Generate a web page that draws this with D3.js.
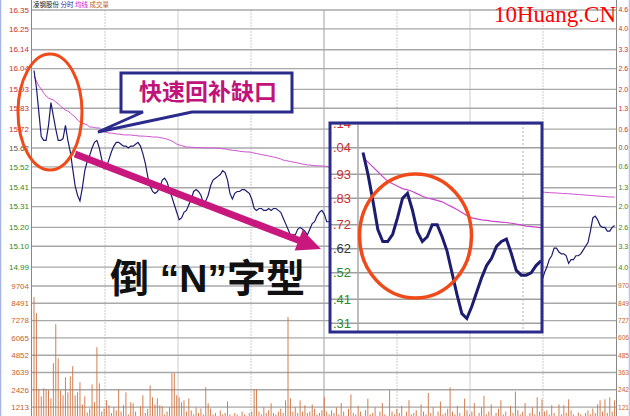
<!DOCTYPE html>
<html><head><meta charset="utf-8">
<script src="https://cdn.jsdelivr.net/npm/d3@7"></script>
<style>html,body{margin:0;padding:0;background:#fff;overflow:hidden}svg{display:block}</style>
</head><body><svg id="c" width="630" height="416"></svg>
<script>
// ---------- DATA ----------
const priceTickValues = [16.35,16.25,16.14,16.04,15.93,15.83,15.72,15.62,15.52,15.41,15.31,15.20,15.10,14.99];
const priceTickLabels = ["16.35","16.25","16.14","16.04","15.93","15.83","15.72","15.62","15.52","15.41","15.31","15.20","15.10","14.99"];
const pctTickLabels = ["4.6","4.0","3.3","2.6","2.0","1.3","0.6","0.0","0.6","1.3","2.0","2.6","3.3","4.0"];
const volTickValues = [9704,8491,7278,6065,4852,3639,2426,1213];
const prevClose = 15.62;

const price = [
16.03,15.94,15.81,15.68,15.66,15.66,15.74,15.86,15.79,15.72,
15.66,15.66,15.67,15.74,15.66,15.60,15.51,15.42,15.37,15.34,
15.41,15.50,15.55,15.58,15.62,15.65,15.66,15.62,15.56,15.51,
15.52,15.56,15.60,15.63,15.65,15.65,15.64,15.63,15.63,15.62,
15.63,15.63,15.64,15.65,15.63,15.59,15.54,15.47,15.42,15.39,
15.38,15.39,15.41,15.45,15.46,15.44,15.40,15.36,15.32,15.28,
15.24,15.25,15.28,15.29,15.32,15.35,15.39,15.40,15.39,15.37,
15.33,15.34,15.37,15.42,15.45,15.46,15.47,15.48,15.50,15.49,
15.45,15.38,15.35,15.38,15.39,15.39,15.40,15.40,15.39,15.38,
15.35,15.30,15.29,15.30,15.30,15.29,15.29,15.30,15.29,15.30,
15.30,15.29,15.28,15.25,15.22,15.19,15.16,15.16,15.16,15.19,
15.20,15.19,15.18,15.16,15.19,15.22,15.23,15.26,15.28,15.29,
15.27,15.23,15.23,15.21,15.19,15.18,15.20,15.22,15.21,15.19,
15.17,15.15,15.14,15.15,15.16,15.15,15.13,15.12,15.12,15.13,
15.14,15.13,15.11,15.10,15.11,15.12,15.12,15.11,15.09,15.08,
15.08,15.09,15.10,15.09,15.07,15.06,15.06,15.07,15.08,15.07,
15.05,15.04,15.05,15.06,15.06,15.05,15.03,15.02,15.03,15.04,
15.05,15.04,15.02,15.01,15.00,15.01,15.02,15.02,15.01,14.99,
14.98,14.98,14.99,15.00,14.99,14.97,14.96,14.96,14.97,14.98,
14.97,14.95,14.94,14.95,14.96,14.95,14.94,14.93,14.93,14.94,
14.95,14.94,14.93,14.92,14.92,14.93,14.94,14.93,14.92,14.91,
14.92,14.96,14.99,15.03,15.05,15.09,15.09,15.07,15.06,15.06,
15.05,15.01,15.03,15.03,15.05,15.05,15.06,15.08,15.10,15.12,
15.18,15.25,15.26,15.24,15.21,15.20,15.20,15.18,15.18,15.20,
15.21];

const avgPrice = [
16.001,15.974,15.948,15.932,15.911,15.895,15.884,15.879,15.874,15.863,
15.853,15.842,15.831,15.821,15.816,15.805,15.794,15.784,15.768,15.757,
15.752,15.747,15.742,15.731,15.731,15.728,15.726,15.726,15.715,15.705,
15.702,15.699,15.699,15.697,15.694,15.694,15.691,15.690,15.689,15.689,
15.689,15.687,15.686,15.684,15.683,15.683,15.682,15.681,15.680,15.678,
15.678,15.678,15.675,15.673,15.670,15.667,15.662,15.657,15.649,15.641,
15.636,15.633,15.628,15.625,15.625,15.624,15.623,15.622,15.622,15.621,
15.621,15.620,15.620,15.620,15.620,15.620,15.619,15.618,15.616,15.615,
15.612,15.610,15.608,15.607,15.605,15.603,15.601,15.600,15.599,15.599,
15.596,15.593,15.591,15.588,15.585,15.583,15.580,15.578,15.575,15.572,
15.570,15.565,15.562,15.556,15.554,15.551,15.548,15.546,15.543,15.541,
15.538,15.535,15.533,15.530,15.530,15.528,15.527,15.526,15.525,15.525,
15.524,15.522,15.519,15.517,15.515,15.514,15.512,15.511,15.509,15.507,
15.505,15.503,15.501,15.499,15.497,15.495,15.493,15.491,15.489,15.487,
15.485,15.483,15.481,15.479,15.477,15.475,15.473,15.471,15.469,15.467,
15.465,15.463,15.461,15.459,15.457,15.455,15.453,15.451,15.449,15.447,
15.445,15.443,15.441,15.439,15.437,15.435,15.433,15.431,15.429,15.427,
15.425,15.423,15.421,15.419,15.418,15.416,15.414,15.413,15.411,15.410,
15.408,15.407,15.405,15.404,15.402,15.401,15.400,15.399,15.398,15.397,
15.396,15.395,15.394,15.393,15.393,15.392,15.392,15.391,15.391,15.390,
15.390,15.389,15.389,15.389,15.388,15.388,15.388,15.387,15.387,15.387,
15.387,15.386,15.385,15.384,15.383,15.383,15.382,15.381,15.380,15.379,
15.379,15.378,15.377,15.376,15.375,15.374,15.373,15.372,15.371,15.370,
15.369,15.368,15.367,15.366,15.365,15.364,15.363,15.362,15.361,15.361,
15.360];

const volume = [
8930,7800,2460,1970,2530,2460,2390,1830,4290,7030,
4640,2390,2040,3300,2250,3370,4080,2040,2250,2950,
1400,1970,840,1120,2810,1550,5410,2880,900,1120,
1690,1340,800,1200,980,2460,900,1340,2250,700,
1550,1480,900,600,1270,2040,800,1100,2740,1900,
1400,1830,1340,1270,700,900,1200,3590,3590,2040,
1900,1550,1690,900,1830,980,700,1200,800,1120,
700,2600,1480,1120,700,800,600,980,700,800,
1620,700,600,800,700,600,900,700,600,800,
900,2460,2460,900,700,1200,800,1000,1480,800,
700,900,1100,800,1690,7540,1830,900,1200,800,
1690,900,1340,800,900,1400,1100,700,800,1000,
1900,900,700,980,800,1200,700,1500,900,600,
1100,2100,800,700,1300,900,600,1000,1800,700,
800,1200,600,900,1500,700,600,2400,900,700,
1100,800,1300,600,900,1700,700,800,1000,600,
1400,900,700,2200,800,1200,600,900,1600,700,
800,1100,2600,900,700,1300,800,600,1800,1000,
700,900,1500,600,800,1200,2000,700,900,1400,
600,800,1100,1700,700,900,600,1300,800,2300,
1000,700,900,1500,600,800,1200,700,1900,900,
1760,900,980,700,1340,800,600,1400,700,1340,
800,1760,980,700,600,840,700,600,800,980,
700,1120,800,1400,1690,900,1760,800,1900,900,
1690];

// inset (zoomed view of the opening)
const insetTickValues = [16.14,16.04,15.93,15.83,15.72,15.62,15.52,15.41,15.31];
const insetTickLabels = [".14",".04",".93",".83",".72",".62",".52",".41",".31"];
const insetPrice = [16.02,15.93,15.82,15.70,15.65,15.65,15.68,15.75,15.83,15.85,
15.78,15.69,15.65,15.67,15.72,15.72,15.67,15.61,15.52,15.43,
15.35,15.33,15.38,15.44,15.50,15.55,15.58,15.63,15.65,15.66,
15.60,15.53,15.51,15.51,15.52,15.55,15.57];
const insetAvg = [16.00,15.98,15.96,15.94,15.92,15.90,15.89,15.88,15.87,15.865,
15.858,15.848,15.838,15.831,15.826,15.821,15.815,15.804,15.794,15.783,
15.771,15.758,15.748,15.744,15.740,15.738,15.735,15.733,15.731,15.729,
15.726,15.722,15.718,15.714,15.712,15.710,15.708];

const headerParts = [["凌钢股份","#222"],["  分时","#2a2a9a"],[" 均线","#d020d0"],[" 成交量","#c06020"]];
const calloutText = "快速回补缺口";
const patternText = "倒 “N”字型";
const watermark = "10Huang.CN";

// ---------- CHART ----------
const svg = d3.select('#c');
const L = 31.5, R = 616.5, T = 10;
const RED = "#c83030", GREEN = "#2a8a2a", ORANGE = "#c8642a", NAVY = "#1c1c70";

const x = d3.scaleLinear().domain([0, 240]).range([34, 614.6]);
const yP = d3.scaleLinear().domain([14.89, 16.35]).range([286, 10]);
const yV = d3.scaleLinear().domain([0, 9704]).range([424.4, 286]);

svg.append('rect').attr('width', 630).attr('height', 416).attr('fill', '#fff');

// borders
svg.append('line').attr('x1',0.5).attr('x2',0.5).attr('y1',0).attr('y2',416).attr('stroke','#a8b4e4').attr('stroke-width',1.5);
svg.append('line').attr('x1',629.3).attr('x2',629.3).attr('y1',0).attr('y2',416).attr('stroke','#b8c0e0').attr('stroke-width',1.2);

// vertical grid
const gx = d3.range(1, 8).map(k => 32 + 73 * k);
svg.append('g').selectAll('line').data(gx).join('line')
  .attr('x1', d => d).attr('x2', d => d).attr('y1', T).attr('y2', 416)
  .attr('stroke', (d, i) => i === 3 ? '#a0a0a0' : '#cccccc')
  .attr('stroke-width', 1)
  .attr('stroke-dasharray', (d, i) => i % 2 === 0 ? '2,1' : null);

// horizontal grid
const hg = svg.append('g');
hg.selectAll('line.p').data(priceTickValues).join('line').attr('class','p')
  .attr('x1', L).attr('x2', R).attr('y1', d => yP(d)).attr('y2', d => yP(d))
  .attr('stroke', '#a8a8a8').attr('stroke-width', 1.4);
hg.selectAll('line.v').data(volTickValues).join('line').attr('class','v')
  .attr('x1', L).attr('x2', R).attr('y1', d => yV(d)).attr('y2', d => yV(d))
  .attr('stroke', '#a8a8a8').attr('stroke-width', 1.4);

// axes lines
svg.append('line').attr('x1', L).attr('x2', L).attr('y1', 0).attr('y2', 416).attr('stroke', '#888').attr('stroke-width', 1);
svg.append('line').attr('x1', R).attr('x2', R).attr('y1', 0).attr('y2', 416).attr('stroke', '#888').attr('stroke-width', 1);

// left labels
const lab = svg.append('g').attr('font-family', 'Liberation Sans, Arial, sans-serif').attr('font-size', 8);
lab.selectAll('text.pl').data(priceTickValues).join('text').attr('class','pl')
  .attr('x', 29).attr('y', d => yP(d)).attr('dy', '0.35em').attr('text-anchor', 'end')
  .attr('fill', d => d > prevClose ? RED : (d < prevClose ? GREEN : '#555'))
  .text((d, i) => priceTickLabels[i]);
lab.selectAll('text.vl').data(volTickValues).join('text').attr('class','vl')
  .attr('x', 29).attr('y', d => yV(d)).attr('dy', '0.35em').attr('text-anchor', 'end')
  .attr('fill', ORANGE).text(d => String(d));
// right labels
const rlab = svg.append('g').attr('font-family', 'Liberation Sans, Arial, sans-serif').attr('font-size', 7);
rlab.selectAll('text.pr').data(priceTickValues).join('text').attr('class','pr')
  .attr('x', 618.5).attr('y', d => yP(d)).attr('dy', '0.35em')
  .attr('fill', d => d > prevClose ? RED : (d < prevClose ? GREEN : '#555'))
  .text((d, i) => pctTickLabels[i]);
rlab.selectAll('text.vr').data(volTickValues).join('text').attr('class','vr')
  .attr('x', 618).attr('y', d => yV(d)).attr('dy', '0.35em')
  .attr('fill', ORANGE).attr('textLength', 11).attr('lengthAdjust', 'spacingAndGlyphs')
  .text(d => String(d).slice(0, 3));

// header
const ht = svg.append('text').attr('x', 33).attr('y', 7).attr('font-size', 6.5)
  .attr('font-family', 'Noto Sans CJK SC, sans-serif');
headerParts.forEach(p => ht.append('tspan').attr('fill', p[1]).text(p[0]));

// clip
svg.append('clipPath').attr('id', 'plot').append('rect').attr('x', L).attr('y', T).attr('width', R - L).attr('height', 416 - T);

// volume bars
svg.append('g').attr('clip-path', 'url(#plot)').selectAll('line').data(volume).join('line')
  .attr('x1', (d, i) => x(i)).attr('x2', (d, i) => x(i))
  .attr('y1', d => yV(d)).attr('y2', 430)
  .attr('stroke', '#cc7040').attr('stroke-width', 0.9);

// price + avg lines
const lineP = d3.line().x((d, i) => x(i)).y(d => yP(d));
const pg = svg.append('g').attr('clip-path', 'url(#plot)');
pg.append('path').attr('d', lineP(avgPrice)).attr('fill', 'none').attr('stroke', '#cc50cc').attr('stroke-width', 1);
pg.append('path').attr('d', lineP(price)).attr('fill', 'none').attr('stroke', NAVY).attr('stroke-width', 1.2);

// left ellipse
svg.append('ellipse').attr('cx', 50).attr('cy', 112).attr('rx', 32).attr('ry', 58)
  .attr('fill', 'none').attr('stroke', '#f04a1a').attr('stroke-width', 3);

// callout
svg.append('path').attr('d', 'M121,73 H292 V112 H192 L98,132 L143,112 H121 Z')
  .attr('fill', '#fff').attr('stroke', '#2b2b8c').attr('stroke-width', 3).attr('stroke-linejoin', 'miter');
svg.append('text').attr('x', 139).attr('y', 100).attr('font-size', 23).attr('font-weight', 'bold')
  .attr('font-family', 'Noto Sans CJK SC, sans-serif').attr('fill', '#c0147a').text(calloutText);

// pink arrow
const ax1 = 75, ay1 = 154, ax2 = 321, ay2 = 249;
const ang = Math.atan2(ay2 - ay1, ax2 - ax1);
const hl = 24, hw = 11;
const bx = ax2 - hl * Math.cos(ang), by = ay2 - hl * Math.sin(ang);
svg.append('line').attr('x1', ax1).attr('y1', ay1).attr('x2', bx + 2 * Math.cos(ang)).attr('y2', by + 2 * Math.sin(ang))
  .attr('stroke', '#c8187e').attr('stroke-width', 7);
svg.append('path').attr('d', `M${ax2},${ay2} L${bx + hw * Math.sin(ang)},${by - hw * Math.cos(ang)} L${bx - hw * Math.sin(ang)},${by + hw * Math.cos(ang)} Z`)
  .attr('fill', '#c8187e');

// pattern text
svg.append('text').attr('x', 110).attr('y', 292).attr('font-size', 39).attr('font-weight', 'bold')
  .attr('font-family', 'Liberation Sans, Noto Sans CJK SC, sans-serif').attr('fill', '#111').text(patternText);

// ---------- INSET ----------
const ix = d3.scaleLinear().domain([0, 36]).range([363, 541]);
const iy = d3.scaleLinear().domain([15.31, 16.04]).range([323.3, 147.7]);
const bxL = 330, bxT = 123, bxW = 212, bxH = 209;
svg.append('clipPath').attr('id', 'inset').append('rect').attr('x', bxL).attr('y', bxT).attr('width', bxW).attr('height', bxH);
const ig = svg.append('g').attr('clip-path', 'url(#inset)');
ig.append('rect').attr('x', bxL).attr('y', bxT).attr('width', bxW).attr('height', bxH).attr('fill', '#fff');
ig.selectAll('line.h').data(insetTickValues).join('line').attr('class','h')
  .attr('x1', bxL).attr('x2', bxL + bxW).attr('y1', d => iy(d)).attr('y2', d => iy(d))
  .attr('stroke', '#a0a0a0').attr('stroke-width', 1.5);
ig.append('line').attr('x1', 358).attr('x2', 358).attr('y1', bxT).attr('y2', bxT + bxH).attr('stroke', '#a8a8a8').attr('stroke-width', 1.5);
ig.append('line').attr('x1', 523).attr('x2', 523).attr('y1', bxT).attr('y2', bxT + bxH).attr('stroke', '#b0b0b0').attr('stroke-width', 1).attr('stroke-dasharray', '2,2');
ig.selectAll('text').data(insetTickValues).join('text')
  .attr('x', 333).attr('y', d => iy(d)).attr('dy', '0.36em').attr('font-size', 13)
  .attr('font-family', 'Liberation Sans, Arial, sans-serif')
  .attr('fill', d => d > prevClose + 0.001 ? RED : (d < prevClose - 0.001 ? GREEN : '#333'))
  .text((d, i) => insetTickLabels[i]);
const il = d3.line().x((d, i) => ix(i)).y(d => iy(d));
ig.append('path').attr('d', il(insetAvg)).attr('fill', 'none').attr('stroke', '#cc44cc').attr('stroke-width', 1.2);
ig.append('path').attr('d', il(insetPrice)).attr('fill', 'none').attr('stroke', NAVY).attr('stroke-width', 3).attr('stroke-linejoin', 'miter');
svg.append('rect').attr('x', bxL).attr('y', bxT).attr('width', bxW).attr('height', bxH)
  .attr('fill', 'none').attr('stroke', '#2b2b8c').attr('stroke-width', 3);
svg.append('ellipse').attr('cx', 415.5).attr('cy', 236).attr('rx', 56).attr('ry', 62)
  .attr('fill', 'none').attr('stroke', '#f04a1a').attr('stroke-width', 3.5);

// watermark
svg.append('text').attr('x', 494).attr('y', 22).attr('font-size', 23)
  .attr('font-family', 'Liberation Serif, Times New Roman, serif').attr('fill', '#ff0000').text(watermark);
</script></body></html>
